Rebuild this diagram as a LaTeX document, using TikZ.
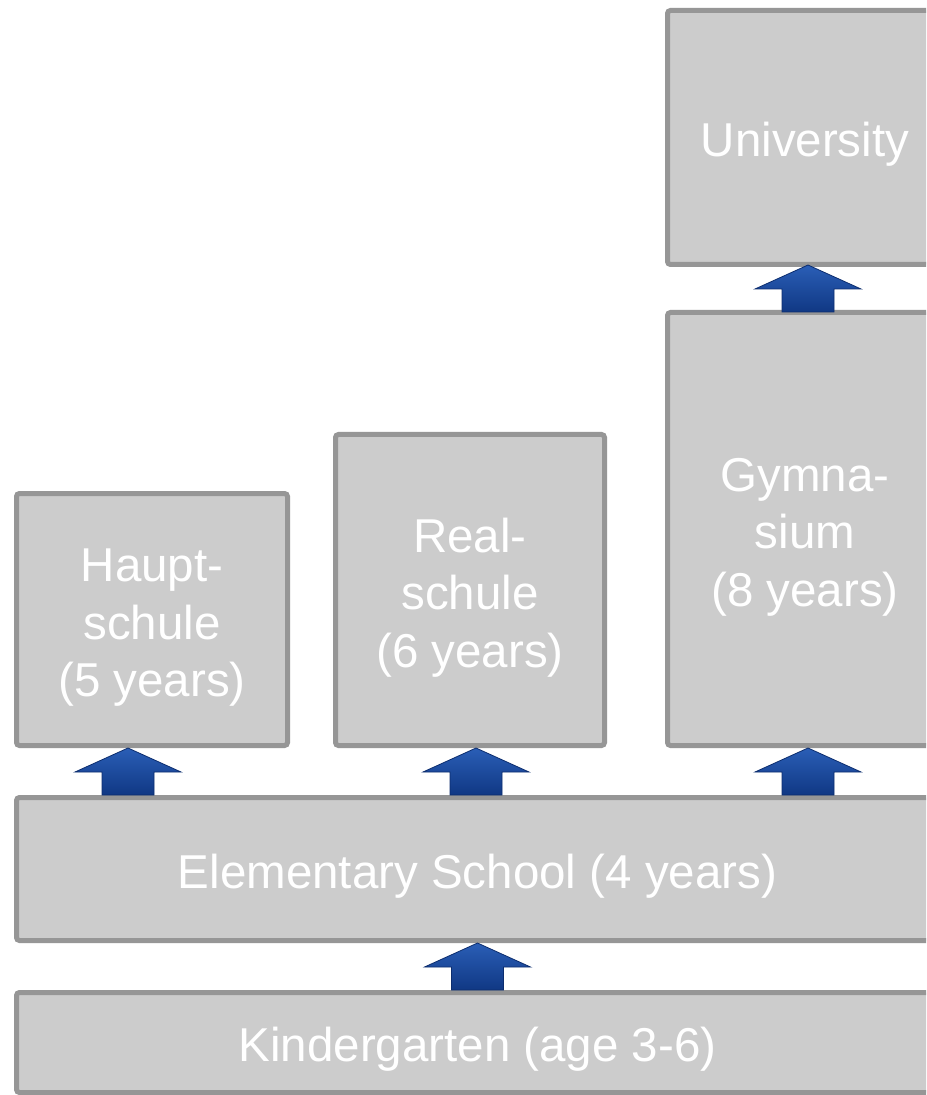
\documentclass[tikz,border=0pt]{standalone}
\usepackage{fontspec}
\setmainfont{Liberation Sans}
\usetikzlibrary{calc}

\definecolor{boxfill}{RGB}{204,204,204}
\definecolor{boxline}{RGB}{150,150,150}
\definecolor{arrowtop}{RGB}{42,94,182}
\definecolor{arrowbot}{RGB}{16,56,132}
\definecolor{arrowedge}{RGB}{12,45,110}

\newcommand{\boxlines}[1]{\begin{tabular}[t]{@{}c@{}}#1\end{tabular}}

\begin{document}
\begin{tikzpicture}[
x=0.5pt, y=-0.5pt,
schoolbox/.style={rectangle, draw=boxline, fill=boxfill, line width=2.5pt, rounded corners=1.5pt,
  inner sep=0pt, text=white, font=\fontsize{23.75}{28.75}\selectfont},
oneline/.style={text height=19pt, text depth=0pt},
threelines/.style={text height=0pt, text depth=38pt},
uparrow/.pic={
  \shade[top color=arrowtop, bottom color=arrowbot, draw=arrowedge, line width=0.4pt]
    (0,0) -- (53,24) -- (26,24) -- (26,47) -- (-26,47) -- (-26,24) -- (-53,24) -- cycle;
},
]
\clip (0,0) rectangle (926,1095);
\fill[white] (0,0) rectangle (926,1095);

%Nodes
\node[schoolbox, oneline, minimum width=137.5pt, minimum height=127pt] (uni) at (805,137.5) {University};
\node[schoolbox, threelines, minimum width=137.5pt, minimum height=216.5pt] (gym) at (805,529) {\boxlines{Gymna-\\sium\\(8 years)}};
\node[schoolbox, threelines, minimum width=134.5pt, minimum height=155.5pt] (real) at (470,590) {\boxlines{Real-\\schule\\(6 years)}};
\node[schoolbox, threelines, minimum width=135.5pt, minimum height=126pt] (haupt) at (152,619.5) {\boxlines{Haupt-\\schule\\(5 years)}};
\node[schoolbox, oneline, minimum width=461pt, minimum height=71.5pt] (elem) at (477.5,869) {Elementary School (4 years)};
\node[schoolbox, oneline, minimum width=461pt, minimum height=50pt] (kg) at (477.5,1042.5) {Kindergarten (age 3-6)};

%Arrows
\pic at (elem.south) {uparrow};
\pic at ($(haupt.south)+(-24,0)$) {uparrow};
\pic at ($(real.south)+(6,0)$) {uparrow};
\pic at ($(gym.south)+(3,0)$) {uparrow};
\pic at ($(uni.south)+(3,-2)$) {uparrow};

\end{tikzpicture}
\end{document}
